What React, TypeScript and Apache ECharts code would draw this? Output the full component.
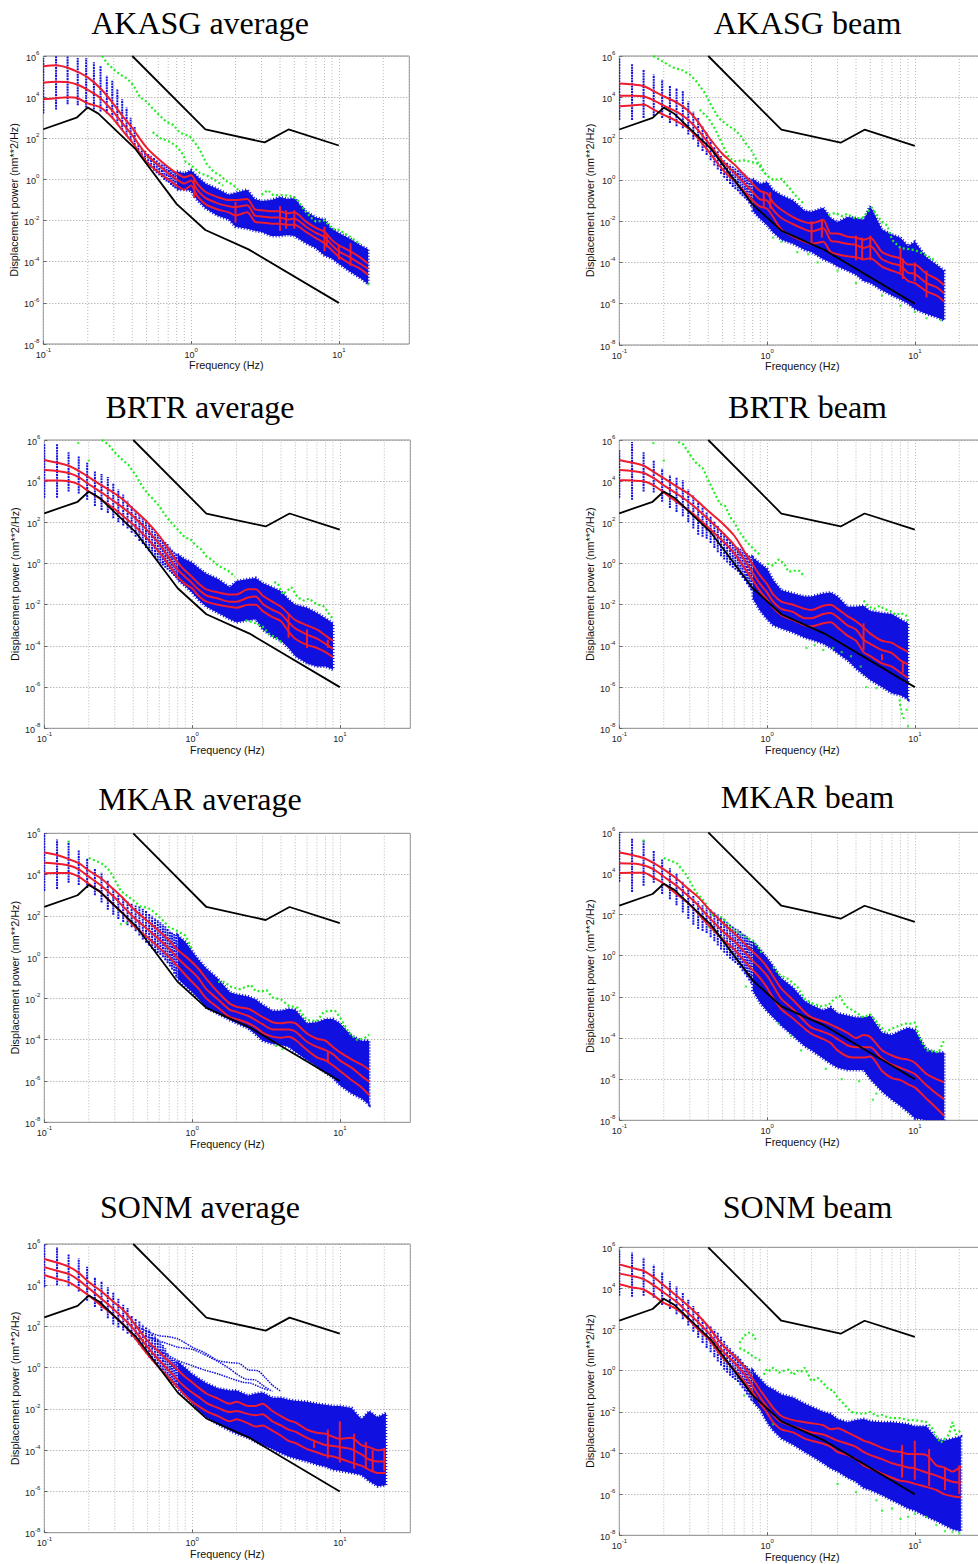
import React, { useEffect, useRef } from "react";
import * as echarts from "echarts";

// All power values below are log10 of displacement power.
const RED_F = [0.1,0.122,0.146,0.171,0.2,0.244,0.293,0.342,0.4,0.5,0.6,0.7,0.8,0.9,1,1.1,1.25,1.5,1.8,2,2.4,2.7,3,3.5,4,4.5,5,6,7,8,9,10,12,14,15.8,18,20.5];
const BAND_F = [0.8,0.9,1,1.1,1.25,1.5,1.8,2,2.4,2.7,3,3.5,4,4.5,5,6,7,8,9,10,12,14,15.8,18,20.5];
const COL_F = [0.1,0.122,0.146,0.171,0.195,0.22,0.244,0.269,0.293,0.317,0.342,0.366,0.39,0.415,0.44,0.464,0.488,0.513,0.537,0.562,0.586,0.61,0.635,0.659,0.683,0.708,0.732,0.757,0.781];
const GRID_F = [0.2,0.3,0.4,0.5,0.6,0.7,0.8,0.9,2,3,4,5,6,7,8,9,20];
const UPPER_NOISE: [number, number][] = [[0.4,6],[1.25,2.43],[3.15,1.8],[4.57,2.43],[10,1.65]];
const LOWER_NOISE: [number, number][] = [[0.1,2.44],[0.168,3],[0.2,3.5],[0.236,3.2],[0.418,1.5],[0.8,-1.2],[1.25,-2.46],[2.45,-3.4],[10,-6]];

const AKA_RED_H = [5.5,5.55,5.43,5.23,4.96,4.42,3.75,3.1,2.5,1.55,1,0.6,0.3,0.1,0.2,-0.2,-0.6,-0.85,-1,-1,-0.95,-1.45,-1.5,-1.55,-1.55,-1.65,-1.6,-2.05,-2.35,-2.55,-2.95,-3.2,-3.5,-3.8,-4.1];
const AKA_RED_M = [4.7,4.75,4.73,4.6,4.35,3.95,3.35,2.75,2.15,1.2,0.7,0.3,0,-0.2,-0.05,-0.5,-0.9,-1.15,-1.3,-1.35,-1.25,-1.75,-1.8,-1.85,-1.85,-1.95,-1.9,-2.3,-2.6,-2.8,-3.2,-3.5,-3.8,-4.1,-4.35];
const AKA_RED_L = [3.9,3.95,4,3.95,3.7,3.5,3,2.4,1.8,0.85,0.35,0,-0.3,-0.5,-0.3,-0.8,-1.2,-1.45,-1.6,-1.75,-1.6,-2.05,-2.1,-2.15,-2.15,-2.2,-2.2,-2.55,-2.85,-3.1,-3.45,-3.75,-4.1,-4.35,-4.65];
const AKA_COL_H = [5.9,6,6,5.9,5.9,5.7,5.5,5.05,4.8,4.4,3.9,3.5,3,2.55,1.75,1.5,1.4,1.25,1.15,1.05,0.95,0.85,0.78,0.7,0.62,0.55,0.5,0.42,0.38];
const AKA_COL_L = [3.2,3.4,3.65,3.6,3.5,3.4,3.3,3.2,3,2.7,2.4,2.15,1.9,1.67,1.43,1.18,0.94,0.75,0.58,0.42,0.3,0.2,0.1,-0.03,-0.1,-0.16,-0.27,-0.36,-0.43];
const AKA_BAND_H = [0.4,0.3,0.45,0.15,-0.2,-0.45,-0.75,-0.65,-0.5,-0.95,-1.05,-1,-0.85,-0.95,-0.9,-1.55,-1.85,-1.95,-2.4,-2.6,-2.9,-3.2,-3.4];
const AKA_BAND_L = [-0.5,-0.5,-0.55,-1,-1.4,-1.75,-1.95,-2.3,-2.4,-2.5,-2.55,-2.75,-2.75,-2.7,-2.75,-3.1,-3.35,-3.7,-3.85,-4.1,-4.5,-4.8,-5.1];
const AKA_GREEN_A: [number, number][] = [[0.25,6],[0.27,5.65],[0.3,5.35],[0.33,5.1],[0.37,4.9],[0.41,4.55],[0.45,4],[0.5,3.78],[0.55,3.45],[0.62,3.08],[0.68,2.8],[0.76,2.65],[0.84,2.27],[0.98,2.1],[1.07,1.75],[1.15,1.43],[1.27,0.78],[1.42,0.37],[1.57,0.2],[1.75,-0.1],[1.93,-0.27],[2.15,-0.6]];
const AKA_GREEN_B: [number, number][] = [[0.55,2.3],[0.62,2],[0.72,1.83],[0.8,1.6],[0.89,1.18],[0.92,0.85],[1,0.7],[1.15,0.3],[1.27,0.2],[1.5,-0.1],[1.65,-0.3]];
const AKA_GREEN_C: [number, number][] = [[3,-0.75],[3.3,-0.52],[3.6,-0.76],[4.2,-0.76],[4.7,-0.8],[5.2,-0.95],[5.6,-1.3],[6,-1.6],[6.6,-1.9],[7,-2.05],[8,-2],[9,-2.4],[10,-2.45],[12,-2.8],[14,-3.15]];
const AKA_DOTS: [number, number][] = [[15.8,-5.1]];
const AKA_SPIKES: [number, number, number][] = [[1.05,-0.9,0],[2,-2.1,-1.1],[4,-2.5,-1.3],[4.4,-2.4,-1.5],[5,-2.4,-1.5],[8,-3.5,-2.3],[8.3,-3.3,-2.7],[10,-3.9,-3.2],[12,-4.2,-3.1]];

const AKB_RED_H = [4.67,4.63,4.55,4.3,4.05,3.75,3.35,2.8,2.1,1.25,0.75,0.25,-0.2,-0.55,-0.65,-1.1,-1.45,-1.8,-2.05,-2.1,-1.95,-2.6,-2.6,-2.75,-2.8,-2.9,-2.8,-3.5,-3.7,-3.8,-4.1,-4.1,-4.55,-4.8,-5.1];
const AKB_RED_M = [4.08,4.08,4.05,3.85,3.6,3.3,2.9,2.4,1.8,0.9,0.35,-0.15,-0.6,-0.95,-1,-1.45,-1.85,-2.15,-2.4,-2.5,-2.35,-2.95,-3,-3.1,-3.15,-3.3,-3.2,-3.85,-4.05,-4.15,-4.5,-4.55,-5,-5.2,-5.5];
const AKB_RED_L = [3.57,3.6,3.65,3.4,3.15,2.85,2.5,2,1.4,0.5,-0.05,-0.55,-1,-1.3,-1.4,-1.8,-2.4,-2.75,-3,-3.1,-3,-3.5,-3.6,-3.7,-3.75,-3.85,-3.8,-4.2,-4.4,-4.55,-4.9,-5,-5.4,-5.6,-5.9];
const AKB_COL_H = [5.9,5.6,5.35,5.1,4.85,4.55,4.45,4.3,3.8,3.3,3,2.6,2.3,1.95,1.6,1.4,1.15,0.95,0.85,0.75,0.65,0.55,0.48,0.42,0.38,0.3,0.2,0.1,0.05];
const AKB_COL_L = [2.9,2.9,3,3.1,3,2.75,2.6,2.5,2.2,1.95,1.6,1.4,1.2,0.95,0.7,0.5,0.3,0.1,-0.05,-0.2,-0.35,-0.45,-0.55,-0.7,-0.8,-0.9,-1,-1.15,-1.3];
const AKB_BAND_H = [0.05,-0.2,-0.1,-0.5,-0.75,-1,-1.5,-1.55,-1.35,-1.85,-2.05,-1.8,-1.85,-1.95,-1.25,-2.4,-2.65,-2.8,-3.2,-3,-3.75,-4.1,-4.4];
const AKB_BAND_L = [-1.5,-1.9,-2.2,-2.55,-2.9,-3.1,-3.4,-3.5,-3.85,-4,-4.2,-4.4,-4.6,-4.9,-5,-5.35,-5.6,-5.8,-6,-6.25,-6.5,-6.65,-6.8];
const AKB_GREEN_A: [number, number][] = [[0.17,6],[0.2,5.7],[0.23,5.45],[0.27,5.3],[0.3,5.1],[0.33,4.8],[0.38,4.2],[0.42,3.6],[0.47,3],[0.5,2.85],[0.55,2.6],[0.6,2.45],[0.66,2.15],[0.72,1.75],[0.78,1.45],[0.85,0.95],[0.92,0.5],[1,0.2],[1.1,0],[1.25,0.05],[1.4,-0.35],[1.6,-0.85],[1.8,-1.2]];
const AKB_GREEN_B: [number, number][] = [[0.35,3.4],[0.4,3],[0.45,2.4],[0.5,1.7],[0.55,1.1],[0.6,0.9],[0.7,0.95],[0.8,0.85],[0.9,0.75],[0.97,0.3]];
const AKB_GREEN_C: [number, number][] = [[2.6,-1.7],[2.9,-1.6],[3.2,-1.75],[3.5,-1.65],[3.9,-1.85],[4.4,-1.85],[4.8,-1.55],[5.1,-1.35],[6,-2.05],[6.5,-2.2],[7,-2.9],[8,-3.3],[10,-3.4],[12,-3.65],[14,-3.95]];
const AKB_DOTS: [number, number][] = [[1.1,-2.8],[1.25,-3],[1.6,-3.5],[1.9,-3.6],[2.2,-4],[3,-4.4],[4,-5],[6,-5.6],[8,-6.1],[10,-6.4],[12,-6.7],[15,-6.8]];
const AKB_SPIKES: [number, number, number][] = [[0.95,-1.3,-0.55],[1.05,-1.4,-0.6],[2,-3.1,-2],[2.35,-2.8,-1.9],[4,-3.9,-2.7],[4.4,-3.9,-2.8],[5,-3.9,-2.7],[8,-4.5,-3.3],[8.3,-4.8,-3.8],[10,-4.9,-4],[12,-5.7,-4.4]];

const BRA_RED_H = [5.03,4.9,4.75,4.5,4.2,3.8,3.45,3.1,2.65,2,1.35,0.65,0.05,-0.35,-0.65,-0.95,-1.25,-1.4,-1.5,-1.5,-1.25,-1.25,-1.55,-1.85,-2.1,-2.45,-2.75,-3,-3.2,-3.5,-3.75];
const BRA_RED_M = [4.54,4.5,4.4,4.2,3.85,3.45,3.05,2.7,2.3,1.6,0.95,0.25,-0.3,-0.65,-0.95,-1.25,-1.55,-1.7,-1.85,-1.85,-1.65,-1.6,-1.95,-2.25,-2.45,-2.85,-3.15,-3.45,-3.65,-3.9,-4.15];
const BRA_RED_L = [4.03,4.03,4,3.85,3.5,3.1,2.7,2.3,1.9,1.2,0.55,-0.1,-0.65,-1,-1.2,-1.55,-1.85,-2,-2.1,-2.15,-2,-2,-2.3,-2.6,-2.8,-3.3,-3.65,-3.95,-4.1,-4.3,-4.55];
const BRA_COL_H = [5.8,5.8,5.4,5.2,4.9,4.5,4.35,4.2,3.9,3.6,3.35,3.05,2.8,2.6,2.4,2.25,2.1,1.9,1.7,1.55,1.4,1.25,1.15,1.05,0.95,0.82,0.7,0.6,0.5];
const BRA_COL_L = [3.2,3.2,3.5,3.4,3.1,2.8,2.6,2.45,2.2,2,1.85,1.7,1.5,1.3,1.1,0.95,0.75,0.6,0.45,0.3,0.15,0,-0.1,-0.2,-0.3,-0.4,-0.5,-0.6,-0.7];
const BRA_BAND_H = [0.45,0.2,0.05,-0.2,-0.5,-0.75,-1.15,-0.85,-0.75,-0.7,-0.95,-1.15,-1.35,-1.75,-2,-2.15,-2.4,-2.65,-2.9];
const BRA_BAND_L = [-0.8,-1.1,-1.4,-1.75,-2.1,-2.4,-2.7,-2.85,-2.75,-2.7,-3.2,-3.55,-3.75,-4.1,-4.5,-4.85,-5,-5,-5.15];
const BRA_GREEN_A: [number, number][] = [[0.245,6],[0.27,5.8],[0.3,5.4],[0.33,5.1],[0.37,4.8],[0.42,4.25],[0.46,3.75],[0.5,3.4],[0.55,3.1],[0.6,2.8],[0.65,2.4],[0.72,2],[0.8,1.65],[0.9,1.25],[0.97,1.2],[1.05,0.9],[1.15,0.7],[1.25,0.35],[1.35,0.2],[1.5,-0.1],[1.65,-0.25],[1.8,-0.4],[1.95,-0.65]];
const BRA_GREEN_C: [number, number][] = [[3.6,-0.9],[3.8,-0.95],[4.1,-1.5],[4.7,-1.15],[5.2,-1.65],[5.7,-1.8],[6.2,-1.7],[6.7,-1.9],[7.2,-2],[7.7,-2.05],[8.2,-2.3],[8.8,-2.6],[9,-2.75]];
const BRA_GREEN_D: [number, number][] = [[2.3,-2.75],[2.7,-2.9],[3,-3.05],[3.3,-3.4],[3.7,-3.6],[4,-3.8]];
const BRA_DOTS: [number, number][] = [[0.17,5.85],[0.2,5]];
const BRA_SPIKES: [number, number, number][] = [[4.5,-3.6,-2.4],[6,-4.1,-3.2],[8.3,-4.1,-3.7]];

const BRB_RED_H = [5.03,4.9,4.75,4.45,4.15,3.75,3.4,3,2.55,1.95,1.35,0.6,-0.05,-0.6,-1,-1.5,-1.85,-2,-2.2,-2.25,-2.05,-2,-2.2,-2.55,-2.8,-3.1,-3.4,-3.75,-3.85,-4.1,-4.3];
const BRB_RED_M = [4.54,4.5,4.4,4.15,3.8,3.4,3,2.6,2.15,1.5,0.9,0.2,-0.45,-1,-1.4,-1.85,-2.2,-2.35,-2.65,-2.65,-2.45,-2.4,-2.6,-3,-3.2,-3.7,-3.9,-4.2,-4.35,-4.7,-4.9];
const BRB_RED_L = [4.05,4.03,4,3.8,3.45,3,2.6,2.2,1.75,1.1,0.5,-0.2,-0.8,-1.35,-1.75,-2.15,-2.5,-2.75,-3,-3.05,-2.9,-2.85,-3.1,-3.5,-3.75,-4.3,-4.5,-4.85,-5,-5.3,-5.55];
const BRB_COL_H = [5.5,5.9,5.4,5,4.6,4.3,4.2,4.05,3.6,3.3,3,2.75,2.5,2.3,2.05,1.85,1.65,1.5,1.3,1.15,1,0.85,0.8,0.72,0.65,0.58,0.5,0.42,0.33];
const BRB_COL_L = [3.2,3.1,3.5,3.45,3,2.7,2.5,2.3,2,1.7,1.4,1.3,1.2,1,0.75,0.55,0.35,0.2,0.05,-0.1,-0.2,-0.3,-0.4,-0.55,-0.7,-0.85,-1,-1.15,-1.3];
const BRB_BAND_H = [0.3,0,-0.25,-0.8,-1.3,-1.45,-1.6,-1.6,-1.45,-1.4,-1.6,-2.1,-2.1,-2.05,-2.3,-2.4,-2.45,-2.7,-2.9];
const BRB_BAND_L = [-1.7,-2.3,-2.7,-3,-3.15,-3.35,-3.6,-3.7,-3.9,-4.1,-4.35,-4.7,-5.1,-5.4,-5.65,-6,-6.3,-6.4,-6.6];
const BRB_GREEN_A: [number, number][] = [[0.25,5.9],[0.27,5.8],[0.3,5.3],[0.33,4.9],[0.37,4.6],[0.4,4.05],[0.44,3.45],[0.48,2.9],[0.52,2.8],[0.57,2.2],[0.6,2],[0.65,1.55],[0.72,1.1],[0.8,0.75],[0.9,0.4]];
const BRB_GREEN_B: [number, number][] = [[1,0],[1.1,-0.1],[1.2,0.2],[1.3,0],[1.4,-0.4],[1.5,-0.35],[1.65,-0.35],[1.8,-0.65]];
const BRB_GREEN_C: [number, number][] = [[4.5,-1.8],[4.9,-2.1],[5.3,-2.2],[5.8,-2.05],[6.2,-2.2],[6.8,-2.3],[7.5,-2.5],[8,-2.4],[8.7,-2.5],[9,-2.8]];
const BRB_GREEN_D: [number, number][] = [[7.9,-6.6],[8,-7],[8.2,-7.3],[8.5,-7.6]];
const BRB_DOTS: [number, number][] = [[0.17,5.85],[0.2,5],[1.85,-4.1],[2.1,-3.95],[2.4,-4.2],[2.8,-4.1],[3.2,-4.3],[3.7,-4.5],[4.3,-5],[4.7,-6],[5.5,-6.05],[8.8,-7.1],[9,-7.9]];
const BRB_SPIKES: [number, number, number][] = [[4.5,-4.2,-2.9],[6,-4.7,-4.4],[8.3,-5.3,-4.8]];

const MKA_RED_H = [5.07,4.95,4.75,4.55,4.2,3.8,3.3,2.85,2.35,1.75,1.25,0.8,0.35,0.05,-0.25,-0.55,-1.05,-1.7,-2.25,-2.4,-2.5,-2.7,-2.9,-3.15,-3.2,-3.15,-3.2,-3.7,-3.95,-4.05,-4.35,-4.6,-4.95,-5.2,-5.45];
const MKA_RED_M = [4.57,4.52,4.45,4.25,3.9,3.45,2.95,2.45,1.95,1.35,0.85,0.4,-0.05,-0.4,-0.7,-1,-1.55,-2.05,-2.55,-2.65,-2.85,-3.05,-3.25,-3.5,-3.5,-3.5,-3.6,-4.1,-4.35,-4.5,-4.7,-5,-5.35,-5.75,-6.03];
const MKA_RED_L = [4.07,4.08,4.08,3.9,3.55,3.1,2.55,2.1,1.55,0.95,0.45,0,-0.45,-0.85,-1.2,-1.5,-2,-2.45,-2.9,-3,-3.2,-3.4,-3.65,-3.85,-3.9,-3.85,-4,-4.5,-4.85,-5,-5.25,-5.5,-5.95,-6.3,-6.68];
const MKA_COL_H = [6,5.7,5.6,5.2,4.8,4.3,4.1,3.7,3.3,3,2.85,2.7,2.6,2.5,2.45,2.35,2.25,2.1,2,1.9,1.8,1.7,1.6,1.5,1.38,1.28,1.2,1.12,1.07];
const MKA_COL_L = [3.2,3.3,3.6,3.5,3.35,3,2.65,2.3,2.05,1.85,1.7,1.55,1.45,1.25,1.05,0.85,0.7,0.55,0.4,0.3,0.2,0.1,0,-0.15,-0.3,-0.45,-0.6,-0.8,-0.95];
const MKA_BAND_H = [1.05,0.75,0.3,-0.1,-0.55,-1.05,-1.7,-1.8,-1.9,-2.05,-2.3,-2.6,-2.6,-2.5,-2.55,-3.2,-3.15,-3,-3,-3.2,-3.8,-4.05,-4.05];
const MKA_BAND_L = [-1.05,-1.4,-1.7,-2,-2.45,-2.75,-3.05,-3.2,-3.45,-3.75,-4.05,-4.2,-4.25,-4.35,-4.6,-5,-5.3,-5.6,-5.85,-6.2,-6.6,-6.85,-7.15];
const MKA_GREEN_A: [number, number][] = [[0.2,4.8],[0.225,4.65],[0.25,4.5],[0.28,4.15],[0.33,3.2],[0.4,2.75],[0.45,2.45],[0.5,2.4],[0.55,2.2],[0.6,1.95],[0.65,1.7],[0.7,1.45],[0.78,1.3],[0.85,1.15],[0.9,1.05],[0.96,0.65],[1,0.35]];
const MKA_GREEN_C: [number, number][] = [[1.5,-1.2],[1.65,-1.2],[1.85,-1.45],[2.1,-1.55],[2.5,-1.35],[2.7,-1.65],[3,-1.65],[3.2,-1.6],[3.5,-1.95],[4,-2.05],[4.5,-2.35],[5.2,-2.45],[6,-3.05],[7,-3.1],[7.8,-2.65],[8.5,-2.6],[9.3,-2.6],[10,-2.9],[10.5,-3.15],[11.5,-3.65],[13,-4],[14.5,-3.95],[15.8,-3.75]];
const MKA_DOTS: [number, number][] = [[0.146,5.6],[0.33,1.6],[0.36,1.65],[3.7,-4.3],[4.1,-4.45]];
const MKA_SPIKES: [number, number, number][] = [[8.3,-5.1,-4.6]];

const MKB_RED_H = [5.02,4.9,4.75,4.5,4.2,3.75,3.25,2.85,2.3,1.6,1.1,0.6,0.2,-0.15,-0.55,-1,-1.6,-2.15,-2.75,-3,-3.2,-3.35,-3.5,-3.75,-4,-3.85,-3.95,-4.6,-4.85,-5,-5.05,-5.2,-5.75,-6,-6.15];
const MKB_RED_M = [4.5,4.48,4.4,4.2,3.85,3.4,2.9,2.45,1.9,1.2,0.7,0.2,-0.25,-0.6,-0.97,-1.45,-2.1,-2.6,-3.2,-3.5,-3.7,-3.85,-4.05,-4.35,-4.45,-4.45,-4.45,-5,-5.3,-5.45,-5.6,-5.75,-6.3,-6.7,-6.97];
const MKB_RED_L = [4.02,4.03,4.03,3.8,3.5,3,2.55,2.05,1.5,0.8,0.3,-0.25,-0.7,-1.1,-1.55,-2.05,-2.6,-3.05,-3.55,-3.8,-4.05,-4.25,-4.6,-4.9,-4.95,-4.95,-4.9,-5.6,-5.95,-6.05,-6.25,-6.4,-6.95,-7.4,-7.78];
const MKB_COL_H = [6,5.7,5.6,5.1,4.7,4.25,4,3.6,3.2,2.9,2.65,2.45,2.35,2.25,2.1,2,1.9,1.8,1.65,1.55,1.45,1.35,1.28,1.2,1.1,1.02,0.95,0.85,0.75];
const MKB_COL_L = [3.6,3.1,3.4,3.55,3,2.75,2.45,2.1,1.8,1.5,1.3,1.2,1.1,0.9,0.7,0.5,0.3,0.15,0,-0.15,-0.25,-0.35,-0.45,-0.6,-0.75,-0.9,-1.05,-1.2,-1.35];
const MKB_BAND_H = [0.7,0.3,-0.1,-0.5,-1.1,-1.55,-2.2,-2.4,-2.65,-2.5,-2.8,-2.9,-3,-3,-2.9,-3.75,-3.85,-3.65,-3.5,-3.6,-4.55,-4.7,-4.7];
const MKB_BAND_L = [-1.7,-2.3,-2.7,-3,-3.4,-3.9,-4.4,-4.6,-5,-5.25,-5.45,-5.55,-5.55,-5.55,-6,-6.6,-7,-7.3,-7.6,-7.9,-8,-8,-8];
const MKB_GREEN_A: [number, number][] = [[0.2,4.75],[0.245,4.5],[0.28,4],[0.33,3.1],[0.38,2.6],[0.42,2],[0.5,1.85],[0.58,1.3],[0.65,1.1],[0.72,0.9],[0.8,0.75],[0.87,0.4],[0.93,0.1]];
const MKB_GREEN_C: [number, number][] = [[1.1,-0.55],[1.2,-0.9],[1.4,-1.15],[1.6,-1.5],[1.8,-2.1],[2,-2.3],[2.3,-2.45],[2.6,-2.4],[2.9,-2.05],[3.1,-1.95],[3.4,-2.45],[3.9,-2.7],[4.5,-3],[5,-2.85],[6.3,-3.7],[7.8,-3.4],[8.6,-3.3],[9.5,-3.3],[10,-3.25],[10.8,-4],[12,-4.6],[14.5,-4.7],[15.8,-4.1]];
const MKB_DOTS: [number, number][] = [[0.146,5.6],[0.4,1.4],[0.45,1.2],[0.5,0.85],[0.55,0.35],[0.72,-1.5],[1.2,-3.3],[1.45,-3.9],[1.7,-4.6],[2.5,-5.5],[3.2,-6],[4.2,-6.1],[5.2,-7],[5.5,-6.7]];
const MKB_SPIKES: [number, number, number][] = [];

const SOA_RED_H = [5.27,5.1,4.9,4.6,4.15,3.7,3.2,2.8,2.2,1.3,0.75,0.3,-0.1,-0.45,-0.7,-0.95,-1.25,-1.5,-1.75,-1.65,-1.85,-1.85,-1.75,-2.1,-2.35,-2.55,-2.65,-3,-3.15,-3.2,-3.35,-3.45,-3.4,-3.75,-3.85,-4,-3.95];
const SOA_RED_M = [4.88,4.7,4.55,4.25,3.85,3.35,2.85,2.4,1.9,1,0.35,-0.15,-0.6,-0.95,-1.2,-1.4,-1.7,-1.95,-2.15,-2.1,-2.25,-2.3,-2.25,-2.6,-2.8,-3,-3.1,-3.4,-3.6,-3.75,-3.8,-3.85,-3.95,-4.2,-4.45,-4.55,-4.55];
const SOA_RED_L = [4.5,4.3,4.15,3.85,3.5,3,2.55,2.1,1.55,0.65,0,-0.5,-0.95,-1.35,-1.65,-1.85,-2.1,-2.35,-2.6,-2.5,-2.7,-2.85,-2.8,-3.05,-3.3,-3.55,-3.65,-3.95,-4.1,-4.25,-4.3,-4.4,-4.6,-4.75,-4.95,-5.1,-5.1];
const SOA_COL_H = [6,5.85,5.5,5.3,4.9,4.4,4.2,3.9,3.65,3.35,3.05,2.9,2.55,2.4,2.25,2.1,1.95,1.85,1.65,1.55,1.4,1.25,1.1,0.95,0.7,0.5,0.45,0.38,0.32];
const SOA_COL_L = [3.9,4,3.95,3.7,3.25,2.95,2.75,2.4,2.1,1.95,1.8,1.65,1.5,1.35,1.1,0.9,0.7,0.5,0.35,0.2,0.05,-0.1,-0.25,-0.4,-0.55,-0.65,-0.75,-0.85,-0.95];
const SOA_BAND_H = [0.3,0,-0.3,-0.5,-0.75,-1,-1.1,-1.1,-1.35,-1.25,-1.2,-1.45,-1.45,-1.55,-1.6,-1.65,-1.75,-1.8,-1.85,-1.85,-1.95,-2.5,-2.1,-2.4,-2.2];
const SOA_BAND_L = [-1,-1.4,-1.75,-2.05,-2.4,-2.75,-3.05,-3.2,-3.4,-3.6,-3.75,-3.95,-4.15,-4.3,-4.4,-4.55,-4.7,-4.8,-4.95,-5,-5.1,-5.2,-5.5,-5.75,-5.7];
const SOA_SPIKES: [number, number, number][] = [[6.7,-3.9,-3.5],[8.3,-4.4,-3],[10,-4.6,-2.6],[12.5,-4.9,-3.2],[15,-4.9,-3.6],[16.7,-5,-4],[20,-5,-3.9]];
const SOA_STRAND_A: [number, number][] = [[0.42,2],[0.5,1.75],[0.6,1.55],[0.7,1.5],[0.8,1.4],[0.9,1.2],[1,1],[1.2,0.75],[1.5,0.35],[1.8,0.25],[2.1,0.2],[2.4,-0.1],[2.8,-0.15],[3.1,-0.45],[3.5,-0.85],[4,-1.15]];
const SOA_STRAND_B: [number, number][] = [[0.5,1.5],[0.6,1.3],[0.8,1],[1,0.9],[1.2,0.65],[1.5,0.3],[1.8,-0.05],[2,-0.3],[2.3,-0.55],[2.7,-0.6],[3,-0.85],[3.5,-1.15]];
const SOA_STRAND_C: [number, number][] = [[0.5,1.1],[0.65,0.7],[0.8,0.35],[1,0.1],[1.2,-0.1],[1.5,-0.3],[1.8,-0.5],[2.2,-0.7],[2.5,-0.75],[2.9,-0.95],[3.3,-1.1]];

const SOB_RED_H = [5.17,5,4.85,4.55,4.15,3.65,3.15,2.7,2.15,1.25,0.7,0.2,-0.4,-0.95,-1.4,-1.8,-2.2,-2.4,-2.5,-2.55,-2.65,-2.85,-2.8,-3,-3.2,-3.4,-3.5,-3.75,-3.9,-3.95,-4.05,-4.05,-4.1,-4.6,-4.7,-4.9,-4.65];
const SOB_RED_M = [4.72,4.6,4.45,4.15,3.8,3.35,2.8,2.35,1.85,0.95,0.4,-0.15,-0.75,-1.3,-1.75,-2.15,-2.5,-2.7,-2.9,-3,-3.1,-3.25,-3.4,-3.55,-3.7,-3.95,-4.1,-4.3,-4.5,-4.6,-4.7,-4.75,-4.95,-5.1,-5.25,-5.4,-5.45];
const SOB_RED_L = [4.2,4.05,3.95,3.65,3.3,3,2.5,2,1.55,0.65,0.05,-0.5,-1.05,-1.6,-2.05,-2.5,-2.85,-3,-3.3,-3.4,-3.55,-3.7,-3.95,-4.1,-4.3,-4.6,-4.75,-5,-5.2,-5.35,-5.4,-5.5,-5.65,-5.8,-6,-6.1,-6.15];
const SOB_COL_H = [5.9,5.75,5.5,5.15,4.8,4.35,4.1,3.8,3.45,3.15,2.85,2.5,2.3,2.15,2,1.85,1.65,1.45,1.25,1.1,0.95,0.8,0.7,0.6,0.45,0.32,0.22,0.12,0.03];
const SOB_COL_L = [3.65,3.6,3.65,3.55,3.2,3,2.75,2.5,2.2,1.9,1.6,1.35,1.1,0.9,0.65,0.45,0.25,0.05,-0.1,-0.25,-0.35,-0.45,-0.55,-0.7,-0.85,-1,-1.15,-1.3,-1.45];
const SOB_BAND_H = [0,-0.4,-0.75,-0.9,-1.15,-1.3,-1.6,-1.75,-2,-2.1,-2.35,-2.5,-2.4,-2.35,-2.45,-2.5,-2.5,-2.55,-2.6,-2.7,-2.7,-3.3,-3.4,-3.3,-3.2];
const SOB_BAND_L = [-1.5,-1.9,-2.5,-2.9,-3.3,-3.6,-3.95,-4.15,-4.5,-4.75,-4.9,-5.2,-5.4,-5.7,-5.8,-6.05,-6.3,-6.5,-6.7,-6.8,-7.1,-7.3,-7.5,-7.7,-7.8];
const SOB_GREEN_A: [number, number][] = [[0.65,1.35],[0.7,1.7],[0.75,1.85],[0.8,1.75],[0.85,1.45]];
const SOB_GREEN_B: [number, number][] = [[0.65,1.1],[0.72,0.95],[0.8,0.7],[0.9,0.5]];
const SOB_GREEN_C: [number, number][] = [[0.95,-0.2],[1,0.1],[1.05,0],[1.1,0.15],[1.2,-0.1],[1.3,0],[1.4,0.05],[1.5,-0.2],[1.6,0],[1.7,-0.05],[1.8,0.15],[2,-0.5],[2.2,-0.35],[2.4,-0.6],[2.6,-0.9],[2.8,-0.95],[3,-1.3],[3.3,-1.6],[3.7,-2],[4,-2.05],[4.5,-2.1],[5,-2],[5.5,-2.2],[6,-2.15],[6.5,-2.25],[7,-2.3],[8,-2.3],[9,-2.4],[10,-2.4],[11,-2.45],[12,-2.5],[13,-2.75],[14,-3.2],[15,-3.5],[16,-3.3],[17,-3.1],[18,-2.5],[19,-3.1],[20.5,-2.9]];
const SOB_DOTS: [number, number][] = [[0.6,0.4],[0.7,-1.2],[1.1,-2.6],[3,-5.5],[4,-5.9],[5.5,-6.3],[6,-6.8],[7,-6.7],[8,-7.2],[9,-7.1],[10,-6.95],[12,-7.1],[14,-7.5],[16,-7.8],[18,-7.85],[20,-7.9]];
const SOB_SPIKES: [number, number, number][] = [[8.2,-5.2,-3.6],[10,-5.3,-3.4],[12.5,-5.6,-3.8],[16,-5.8,-4.7],[20,-6,-4.6]];

const PANELS = [
  { title: "AKASG average", tx: 200, ty: 23, left: 43.3, top: 56, bottom: 344, red: [AKA_RED_H, AKA_RED_M, AKA_RED_L], colH: AKA_COL_H, colL: AKA_COL_L, bandH: AKA_BAND_H, bandL: AKA_BAND_L, greens: [AKA_GREEN_A, AKA_GREEN_B, AKA_GREEN_C], dots: AKA_DOTS, spikes: AKA_SPIKES, strands: [] },
  { title: "AKASG beam", tx: 807.5, ty: 23, left: 619.3, top: 56, bottom: 345, red: [AKB_RED_H, AKB_RED_M, AKB_RED_L], colH: AKB_COL_H, colL: AKB_COL_L, bandH: AKB_BAND_H, bandL: AKB_BAND_L, greens: [AKB_GREEN_A, AKB_GREEN_B, AKB_GREEN_C], dots: AKB_DOTS, spikes: AKB_SPIKES, strands: [] },
  { title: "BRTR average", tx: 200, ty: 407, left: 44.3, top: 440, bottom: 728.3, red: [BRA_RED_H, BRA_RED_M, BRA_RED_L], colH: BRA_COL_H, colL: BRA_COL_L, bandH: BRA_BAND_H, bandL: BRA_BAND_L, greens: [BRA_GREEN_A, BRA_GREEN_C, BRA_GREEN_D], dots: BRA_DOTS, spikes: BRA_SPIKES, strands: [] },
  { title: "BRTR beam", tx: 807.5, ty: 407, left: 619.3, top: 440, bottom: 728.3, red: [BRB_RED_H, BRB_RED_M, BRB_RED_L], colH: BRB_COL_H, colL: BRB_COL_L, bandH: BRB_BAND_H, bandL: BRB_BAND_L, greens: [BRB_GREEN_A, BRB_GREEN_B, BRB_GREEN_C, BRB_GREEN_D], dots: BRB_DOTS, spikes: BRB_SPIKES, strands: [] },
  { title: "MKAR average", tx: 200, ty: 799, left: 44.3, top: 833.3, bottom: 1122.3, red: [MKA_RED_H, MKA_RED_M, MKA_RED_L], colH: MKA_COL_H, colL: MKA_COL_L, bandH: MKA_BAND_H, bandL: MKA_BAND_L, greens: [MKA_GREEN_A, MKA_GREEN_C], dots: MKA_DOTS, spikes: MKA_SPIKES, strands: [] },
  { title: "MKAR beam", tx: 807.5, ty: 797, left: 619.3, top: 832.3, bottom: 1120.3, red: [MKB_RED_H, MKB_RED_M, MKB_RED_L], colH: MKB_COL_H, colL: MKB_COL_L, bandH: MKB_BAND_H, bandL: MKB_BAND_L, greens: [MKB_GREEN_A, MKB_GREEN_C], dots: MKB_DOTS, spikes: MKB_SPIKES, strands: [] },
  { title: "SONM average", tx: 200, ty: 1207, left: 44.3, top: 1244, bottom: 1532.7, red: [SOA_RED_H, SOA_RED_M, SOA_RED_L], colH: SOA_COL_H, colL: SOA_COL_L, bandH: SOA_BAND_H, bandL: SOA_BAND_L, greens: [], dots: [], spikes: SOA_SPIKES, strands: [SOA_STRAND_A, SOA_STRAND_B, SOA_STRAND_C] },
  { title: "SONM beam", tx: 807.5, ty: 1207, left: 619.3, top: 1247.3, bottom: 1535.3, red: [SOB_RED_H, SOB_RED_M, SOB_RED_L], colH: SOB_COL_H, colL: SOB_COL_L, bandH: SOB_BAND_H, bandL: SOB_BAND_L, greens: [SOB_GREEN_A, SOB_GREEN_B, SOB_GREEN_C], dots: SOB_DOTS, spikes: SOB_SPIKES, strands: [] },
];

const BLUE = "#1010e0";
const RED = "#ee1c2e";
const GREEN = "#22ee22";
const GRID = "#b8b8b8";
const P = (e: number) => Math.pow(10, e);
const AXIS_W = 366;

const vLineItem = (stroke: string, lineWidth: number, lineDash?: number[]) => (_p: any, api: any) => {
  const a = api.coord([api.value(0), api.value(1)]);
  const b = api.coord([api.value(0), api.value(2)]);
  return { type: "line", shape: { x1: a[0], y1: a[1], x2: b[0], y2: b[1] }, style: { stroke, lineWidth, lineDash, fill: null } };
};

const powerLabel = (v: number) => {
  const e = Math.log10(v);
  if (Math.abs(e - Math.round(e)) > 0.001) return "";
  return `{a|10}{b|${Math.round(e)}}`;
};

function buildOption() {
  const labelRich = {
    a: { fontSize: 9, fontFamily: "Liberation Sans", color: "#222", lineHeight: 12, verticalAlign: "bottom" },
    b: { fontSize: 6, fontFamily: "Liberation Sans", color: "#222", lineHeight: 12, verticalAlign: "top" },
  };
  const title: any[] = [], grid: any[] = [], xAxis: any[] = [], yAxis: any[] = [], series: any[] = [];
  PANELS.forEach((p, i) => {
    title.push({ text: p.title, left: p.tx, top: p.ty - 16, padding: 0, textAlign: "center", textStyle: { fontFamily: "Liberation Serif", fontWeight: "normal", fontSize: 32, color: "#000" } });
    grid.push({ left: p.left, top: p.top, width: AXIS_W, height: p.bottom - p.top, show: true, borderColor: "#8a8a8a", borderWidth: 1, containLabel: false, outerBoundsMode: "none" });
    xAxis.push({
      type: "log", gridIndex: i, min: 0.1, max: 30, logBase: 10,
      name: "Frequency (Hz)", nameLocation: "middle", nameGap: 15,
      nameTextStyle: { fontFamily: "Liberation Sans", fontSize: 10.8, color: "#111" },
      axisLine: { show: false }, axisTick: { inside: true, length: 3, lineStyle: { color: "#666" } },
      axisLabel: { margin: 3, formatter: powerLabel, rich: labelRich, showMaxLabel: false },
      splitLine: { show: true, lineStyle: { color: GRID, type: [1, 2], width: 1 } },
      minorTick: { show: false }, minorSplitLine: { show: false },
    });
    yAxis.push({
      type: "log", gridIndex: i, min: 1e-8, max: 1e6, logBase: 100, interval: 1,
      name: "Displacement power (nm**2/Hz)", nameLocation: "middle", nameGap: 24, nameRotate: 90,
      nameTextStyle: { fontFamily: "Liberation Sans", fontSize: 10.8, color: "#111" },
      axisLine: { show: false }, axisTick: { inside: true, length: 3, lineStyle: { color: "#666" } },
      axisLabel: { margin: 4, formatter: powerLabel, rich: labelRich },
      splitLine: { show: true, lineStyle: { color: "#9a9a9a", type: [1, 2], width: 1 } },
    });
    const base = { xAxisIndex: i, yAxisIndex: i, silent: true, animation: false };
    series.push({
      ...base, type: "custom", name: p.title + " minor grid", encode: { x: 0, y: [1, 2] },
      data: GRID_F.map((f) => [f, 1e-8, 1e6]), renderItem: vLineItem(GRID, 1, [1, 2]),
    });
    p.greens.forEach((s: [number, number][], k: number) => series.push({
      ...base, type: "line", name: p.title + " extremes " + (k + 1), symbol: "none",
      lineStyle: { color: GREEN, width: 2.2, type: [2, 2.5] }, data: s.map(([f, e]) => [f, P(e)]),
    }));
    if (p.dots.length) series.push({
      ...base, type: "scatter", name: p.title + " outliers", symbol: "rect", symbolSize: 2.2,
      itemStyle: { color: GREEN }, data: p.dots.map(([f, e]) => [f, P(e)]),
    });
    const bandRows = p.bandH.map((h, k) => [BAND_F[k], P(p.bandL[k]), P(h)]);
    series.push({
      ...base, type: "custom", name: p.title + " cloud", encode: { x: 0, y: [1, 2] }, data: bandRows, clip: true,
      renderItem: (params: any, api: any) => {
        if (params.dataIndex > 0) return null;
        const up = bandRows.map((r) => api.coord([r[0], r[2]]));
        const dn = bandRows.map((r) => api.coord([r[0], r[1]])).reverse();
        return { type: "polygon", shape: { points: up.concat(dn) }, style: { fill: BLUE, stroke: BLUE, lineWidth: 3, lineDash: [1, 2] } };
      },
    });
    series.push({
      ...base, type: "custom", name: p.title + " columns", encode: { x: 0, y: [1, 2] }, clip: true,
      data: p.colH.map((h, k) => [COL_F[k], P(p.colL[k]), P(h)]), renderItem: vLineItem(BLUE, 2, [2, 0.7]),
    });
    p.strands.forEach((s: [number, number][], k: number) => series.push({
      ...base, type: "line", name: p.title + " strand " + (k + 1), symbol: "none", smooth: 0.2,
      lineStyle: { color: BLUE, width: 1.5, type: [1.5, 1] }, data: s.map(([f, e]) => [f, P(e)]),
    }));
    p.red.forEach((r, k) => series.push({
      ...base, type: "line", name: p.title + " percentile " + (k + 1), symbol: "none", smooth: 0.25,
      lineStyle: { color: RED, width: 2 }, data: r.map((e, j) => [RED_F[j], P(e)]),
    }));
    series.push({
      ...base, type: "custom", name: p.title + " peaks", encode: { x: 0, y: [1, 2] },
      data: p.spikes.map(([f, a, b]) => [f, P(a), P(b)]), renderItem: vLineItem(RED, 2),
    });
    series.push({
      ...base, type: "line", name: p.title + " high noise model", symbol: "none",
      lineStyle: { color: "#000", width: 1.8 }, data: UPPER_NOISE.map(([f, e]) => [f, P(e)]),
    });
    series.push({
      ...base, type: "line", name: p.title + " low noise model", symbol: "none",
      lineStyle: { color: "#000", width: 1.8 }, data: LOWER_NOISE.map(([f, e]) => [f, P(e)]),
    });
  });
  return { animation: false, backgroundColor: "#fff", title, grid, xAxis, yAxis, series };
}

export default function App() {
  const ref = useRef<HTMLDivElement>(null);
  useEffect(() => {
    document.body.style.margin = "0";
    const chart = echarts.init(ref.current!, undefined, { renderer: "svg" });
    chart.setOption(buildOption() as any);
    return () => chart.dispose();
  }, []);
  return <div ref={ref} style={{ width: 978, height: 1564, overflow: "hidden" }} />;
}
